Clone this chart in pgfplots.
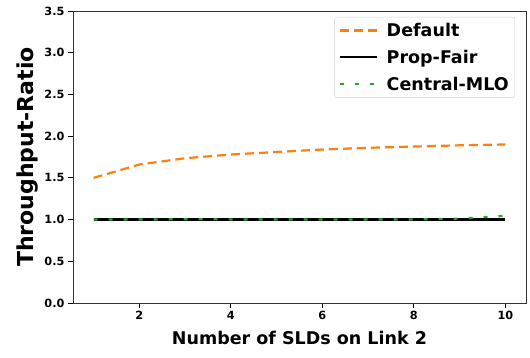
\documentclass[border=0pt]{standalone}
\usepackage{fontspec}
\setmainfont{DejaVu Sans}
\usepackage{pgfplots}
\pgfplotsset{compat=1.18}
\definecolor{mplorange}{HTML}{FF7F0E}
\definecolor{mplgreen}{HTML}{2CA02C}
\begin{document}
\begin{tikzpicture}
\begin{axis}[
  scale only axis,
  width=453pt, height=292pt,
  at={(0,0)}, anchor=south west,
  xmin=0.55, xmax=10.45,
  ymin=0, ymax=3.5,
  xtick={2,4,6,8,10},
  ytick={0,0.5,1,1.5,2,2.5,3,3.5},
  yticklabel style={/pgf/number format/.cd,fixed,fixed zerofill,precision=1},
  /pgf/number format/assume math mode=true,
  tick label style={font=\fontsize{11.3}{13}\selectfont\bfseries},
  tick align=outside,
  xtick pos=bottom, ytick pos=left,
  major tick length=5pt,
  tick style={black, line width=0.8pt},
  axis line style={black!80, line width=0.9pt},
  xlabel={Number of SLDs on Link 2},
  ylabel={Throughput-Ratio},
  xlabel style={font=\fontsize{17.5}{20}\selectfont\bfseries, yshift=-4pt},
  ylabel style={font=\fontsize{22}{25}\selectfont\bfseries, yshift=-1pt},
  legend style={at={(1,1)}, xshift=-11pt, yshift=-6pt, anchor=north east, draw=black!20, rounded corners=2pt,
    font=\fontsize{17.5}{20}\selectfont\bfseries, row sep=8pt, inner xsep=4pt, inner ysep=4pt},
  legend cell align=left,
  legend image code/.code={\draw[#1] (0pt,0pt) -- (37pt,0pt); \path[draw=none] (37pt,0pt) -- (45pt,0pt);},
]
\addplot[mplorange, line width=2.2pt, dash pattern=on 9pt off 5pt] coordinates {
(1,1.50) (2,1.66) (3,1.735) (4,1.78) (5,1.81) (6,1.84) (7,1.86) (8,1.875) (9,1.89) (10,1.90)};
\addlegendentry{Default}
\addplot[black, line width=2.2pt] coordinates {
(1,1.0) (2,1.0) (3,1.0) (4,1.0) (5,1.0) (6,1.0) (7,1.0) (8,1.0) (9,1.0) (10,1.0)};
\addlegendentry{Prop-Fair}
\addplot[mplgreen, line width=2.2pt, dash pattern=on 4pt off 11pt] coordinates {
(1,1.0) (2,1.0) (3,1.004) (4,1.002) (5,1.0) (6,1.0) (7,1.0) (8,1.0) (9,1.012) (10,1.045)};
\addlegendentry{Central-MLO}
\end{axis}
\pgfresetboundingbox
\path[use as bounding box] (-73pt,-55pt) rectangle (457pt,303pt);
\end{tikzpicture}
\end{document}
